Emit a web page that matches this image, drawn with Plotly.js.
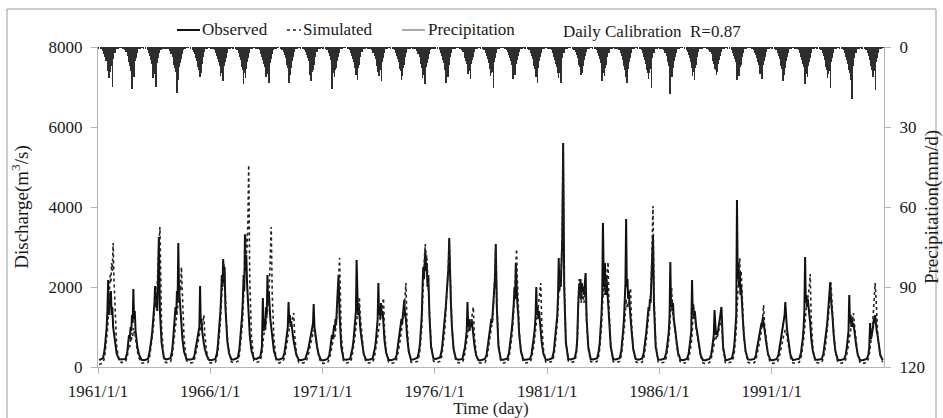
<!DOCTYPE html>
<html>
<head>
<meta charset="utf-8">
<script src="https://cdn.plot.ly/plotly-3.0.1.min.js"></script>
<style>html,body{margin:0;padding:0;background:#fff;}#chart{width:943px;height:418px;}</style>
</head>
<body>
<div id="chart"></div>
<script>
// ---------------- data ----------------
const years = [1961,1962,1963,1964,1965,1966,1967,1968,1969,1970,1971,1972,1973,1974,1975,1976,1977,1978,1979,1980,1981,1982,1983,1984,1985,1986,1987,1988,1989,1990,1991,1992,1993,1994,1995];

// sampling days inside each year for discharge (m3/s)
const flowDays = ['01-20','03-25','04-20','05-05','05-20','06-03','06-15','06-27','07-08','07-19','07-30','08-10','08-22','09-04','09-18','10-05','11-01','12-10'];

const observed = [
 [170,220,450,700,950,1400,2175,1300,1700,1500,1900,1300,1500,1000,800,550,330,190],
 [190,200,350,550,800,700,1000,900,1300,1100,1950,1200,1400,900,700,480,300,180],
 [170,200,380,500,700,900,1100,1300,1600,2025,1500,1800,1400,2200,3250,1400,600,220],
 [190,220,400,650,900,1200,1500,1300,1900,1600,3100,2000,1700,1400,1100,700,380,200],
 [180,200,300,450,600,700,800,900,1000,2025,1100,1200,900,800,600,450,300,180],
 [170,200,350,550,800,1100,1400,1800,2300,2000,2700,2100,2500,1500,1000,650,350,190],
 [190,230,450,700,1000,1300,1700,2300,1900,3320,2400,2800,2100,1800,1300,800,420,210],
 [200,250,500,1725,900,1200,1000,1500,1300,2300,1600,1900,1400,1200,1000,700,400,200],
 [180,220,350,500,650,800,1000,1625,1100,1300,1000,1150,900,800,650,480,300,180],
 [170,200,300,400,500,600,750,850,900,1000,1100,1575,1000,900,700,500,300,170],
 [170,200,300,450,600,800,700,1000,1050,900,1200,1100,1400,1700,2300,1300,500,190],
 [180,200,350,500,700,900,1100,1400,2675,1500,1300,1600,1200,1000,800,550,320,180],
 [180,210,350,500,700,900,1200,2100,1300,1500,1200,1600,1300,1400,1000,650,350,180],
 [170,200,300,450,600,750,900,1000,1200,1100,1300,1400,1675,1300,1200,800,400,180],
 [190,230,400,600,900,1300,2000,2500,2200,2700,2925,2400,2600,2000,2300,1300,500,210],
 [200,240,400,600,800,1000,1300,1500,1700,1900,2200,2500,3225,2000,1600,1000,450,200],
 [180,200,350,500,700,900,1625,1000,1200,900,1100,1000,1200,900,800,550,300,170],
 [170,200,300,450,600,800,900,1000,1200,1100,1400,1600,1900,2200,3075,1500,500,180],
 [180,210,350,500,700,900,1100,1300,1600,2000,1700,2600,1900,1600,1300,800,400,180],
 [180,200,300,450,600,800,1000,1300,2000,1300,1500,1200,1400,1100,900,600,330,180],
 [180,220,400,600,800,1000,1300,1800,2725,1900,2200,2000,2500,3200,5600,2000,600,200],
 [190,220,400,700,1500,2000,1800,2200,1700,2100,1900,2000,1800,2100,2350,1200,500,200],
 [190,220,400,600,900,1300,1800,3600,2400,2000,2600,1800,2300,1900,1600,1200,500,200],
 [190,220,400,600,900,1200,1600,2100,3700,2000,2200,1700,1900,1500,1300,900,450,200],
 [180,210,350,500,700,900,1100,1300,1500,1400,1700,1600,2000,2600,3300,1500,500,190],
 [180,210,350,500,700,900,1300,2625,1500,1700,1400,1600,1200,1100,900,650,350,180],
 [170,200,330,500,700,900,2175,1300,1500,1200,1400,1100,1000,900,750,550,300,170],
 [170,200,300,450,600,800,1425,900,800,900,800,900,1000,1100,1300,1500,500,170],
 [180,220,400,600,900,1300,4175,2200,2600,2000,2400,1800,2000,1500,1200,800,400,190],
 [180,200,300,450,600,700,800,900,1000,1100,1000,1250,1100,1000,800,600,330,180],
 [170,200,300,450,600,750,900,1000,1100,1200,1300,1625,1100,1000,800,550,300,170],
 [180,210,350,500,700,1000,1400,2750,1600,1800,1500,1700,1400,1300,1100,700,380,180],
 [180,200,330,480,650,850,1000,1200,1400,1600,1800,2125,1700,1500,1200,800,400,180],
 [170,200,320,480,650,900,1800,1100,1300,1000,1200,1000,1100,900,800,550,300,170],
 [170,200,300,450,1100,700,800,900,1000,1200,1100,1300,1000,900,800,550,300,170]
];

const simulated = [
 [60,110,250,450,650,900,1200,1500,1900,2300,2100,2600,2400,3100,2200,1300,500,170],
 [110,130,250,400,550,500,700,650,850,750,975,850,900,700,550,380,220,100],
 [100,120,250,400,550,750,900,1100,1300,1700,1500,1700,2000,2600,3000,3500,1000,140],
 [110,130,250,450,650,900,1100,1200,1400,1500,1800,1700,2000,1900,2500,1600,700,160],
 [100,110,200,300,400,500,600,700,800,900,1000,1100,1000,1200,1300,800,400,110],
 [100,120,250,400,600,850,1100,1500,1900,2100,2400,2600,2300,1800,1200,750,400,130],
 [110,140,300,500,750,1000,1300,1700,2000,2600,3300,2800,3000,3600,5050,2200,800,160],
 [110,150,350,700,800,900,900,1100,1200,1400,1600,1800,2200,2800,3500,1800,700,150],
 [100,130,220,350,450,600,750,900,950,1000,1050,1100,1150,1250,1350,800,350,110],
 [100,110,180,250,350,450,550,650,750,800,900,925,850,800,650,450,250,100],
 [90,110,200,300,400,500,550,700,800,750,900,1000,1300,1800,2300,2725,800,130],
 [100,120,220,350,500,650,800,1000,1200,1300,1400,1500,1750,1300,1000,650,320,110],
 [100,120,220,350,500,650,800,1000,1100,1200,1300,1400,1500,1600,1725,900,400,120],
 [90,110,200,300,400,500,650,800,900,1000,1100,1300,1500,1700,2100,1100,450,120],
 [110,140,280,450,700,1000,1600,2200,2500,2800,3075,2600,2800,2300,2100,1400,600,150],
 [110,140,250,400,600,800,1000,1300,1500,1800,2100,2600,3150,2400,1700,1000,450,140],
 [100,120,220,350,500,600,800,900,1000,900,1000,1100,1200,1300,1500,800,350,110],
 [100,110,200,300,450,600,700,800,950,1000,1200,1500,1800,2300,3000,1700,600,120],
 [100,120,220,350,500,700,900,1100,1400,1700,2000,2300,2950,2200,1500,900,400,120],
 [100,120,200,300,450,600,800,1000,1200,1300,1400,1500,1700,1900,2100,1100,450,120],
 [110,140,280,450,650,850,1100,1500,2000,2200,2000,2300,2600,3500,5550,2200,700,150],
 [110,140,300,600,1300,2200,1700,1900,1600,1800,1700,1800,1600,1900,2000,1100,450,140],
 [110,140,280,450,700,1000,1400,2000,2000,1800,2200,1900,2100,2300,2625,1400,550,140],
 [110,140,280,450,650,900,1100,1400,1700,1500,1600,1500,1700,1800,1975,1100,450,140],
 [100,120,220,350,500,700,900,1100,1300,1400,1600,1800,2200,3000,4025,1800,600,130],
 [100,120,220,350,500,700,900,1200,1500,1975,1400,1300,1100,1000,800,550,300,110],
 [100,110,200,320,450,600,800,1100,1600,1200,1300,1100,1000,900,700,500,280,100],
 [90,110,200,300,400,500,700,750,700,800,750,850,900,1000,1100,1200,450,100],
 [100,130,250,400,600,900,1400,1900,2300,2500,2725,2200,2400,1800,1300,800,400,120],
 [90,110,180,280,400,500,600,700,800,900,1100,1300,1550,1100,900,600,300,100],
 [90,110,180,260,350,450,550,650,750,800,850,925,850,800,650,450,250,100],
 [100,120,230,350,500,700,900,1200,1400,1500,1600,1700,1800,2000,2325,1200,450,120],
 [100,120,220,330,480,650,800,1000,1200,1400,1700,2000,2100,1700,1300,850,400,120],
 [90,110,200,300,420,550,700,800,900,1000,1100,1200,1350,1100,900,600,300,100],
 [90,110,200,300,450,600,800,1000,1300,1600,1900,2100,1800,1300,900,600,300,120]
];

// sampling days inside each year for precipitation (mm/d)
const rainDays = ['01-10','02-15','03-15','04-05','04-25','05-10','05-25','06-05','06-15','06-25','07-05','07-15','07-25','08-05','08-15','08-25','09-10','09-30','10-25','11-20','12-15'];

const precipitation = [
 [0.4,0.5,1.4,2.5,3.6,5.2,4.0,7.8,8.9,11.8,7.2,9.4,8.8,6.2,7.0,14.9,4.5,2.4,0.9,0.7,0.3],
 [0.3,0.6,1.2,2.0,3.2,4.4,5.8,7.0,8.2,9.0,15.8,7.0,8.6,11.2,6.6,5.4,4.0,2.2,0.8,0.6,0.3],
 [0.5,0.5,1.0,2.3,3.5,4.8,6.2,7.5,11.5,9.4,7.6,10.2,9.0,14.9,6.0,5.8,4.1,2.3,1.0,0.6,0.4],
 [0.4,0.7,1.5,2.6,3.8,5.0,6.6,8.0,9.2,7.8,17.1,10.0,12.2,8.6,7.6,6.0,4.4,2.8,1.1,0.7,0.3],
 [0.3,0.4,1.0,1.8,2.8,4.0,5.2,6.4,7.4,8.2,8.8,11.1,6.8,9.8,6.4,5.0,3.6,2.0,0.7,0.5,0.3],
 [0.4,0.5,1.2,2.2,3.3,4.6,5.8,7.0,10.8,9.0,9.6,7.6,12.9,8.2,7.0,5.6,4.0,2.2,0.8,0.6,0.3],
 [0.4,0.6,1.3,2.4,3.6,4.9,6.2,7.6,8.8,14.0,8.0,9.6,11.6,8.2,7.0,5.6,4.2,2.4,0.9,0.6,0.3],
 [0.5,0.5,1.2,2.6,3.8,5.0,6.4,7.6,8.6,11.2,9.8,10.2,8.0,8.4,13.4,6.0,4.4,2.5,1.0,0.7,0.4],
 [0.3,0.5,1.1,2.0,3.0,4.2,5.6,6.8,8.0,8.8,13.4,7.4,10.6,7.8,6.6,5.2,3.8,2.0,0.8,0.5,0.3],
 [0.4,0.4,1.0,1.9,3.0,4.2,5.4,6.6,10.4,12.9,7.6,9.4,8.8,7.8,6.6,5.2,3.6,2.0,0.7,0.5,0.3],
 [0.4,0.5,1.2,2.2,3.4,4.8,6.0,15.6,7.2,9.2,9.8,11.4,8.8,8.0,6.8,5.4,3.9,2.2,0.8,0.6,0.3],
 [0.3,0.5,1.1,2.1,3.2,4.4,5.6,6.8,8.0,10.6,9.4,7.8,12.4,8.0,6.8,5.4,3.8,2.0,0.8,0.6,0.3],
 [0.4,0.6,1.3,2.3,3.4,4.6,5.9,7.2,8.4,9.2,11.0,9.4,8.8,6.8,12.9,5.6,4.0,2.2,0.9,0.6,0.3],
 [0.4,0.5,1.2,2.2,3.3,4.5,5.8,7.0,8.2,9.0,12.4,7.6,10.8,7.8,6.6,5.2,3.8,2.1,0.8,0.6,0.3],
 [0.5,0.6,1.4,2.5,3.7,5.0,6.4,7.8,11.6,9.8,10.4,8.2,14.0,9.6,7.6,6.0,4.4,2.6,1.0,0.7,0.4],
 [0.4,0.5,1.2,2.3,3.5,4.8,6.0,7.4,8.6,9.4,13.4,9.8,8.0,11.2,6.8,5.4,3.9,2.2,0.8,0.6,0.3],
 [0.3,0.4,1.0,1.9,2.9,4.1,5.3,6.5,7.6,10.2,9.0,7.4,8.8,11.9,6.4,5.0,3.6,1.9,0.7,0.5,0.3],
 [0.4,0.5,1.2,2.2,3.4,4.6,5.9,7.2,8.4,11.0,9.8,9.4,7.6,8.0,15.5,5.6,4.0,2.2,0.8,0.6,0.3],
 [0.3,0.5,1.1,2.0,3.0,4.2,5.4,6.6,7.8,11.9,7.4,9.2,10.4,7.4,6.2,4.9,3.5,1.9,0.7,0.5,0.3],
 [0.4,0.5,1.2,2.2,3.3,4.5,5.8,7.0,8.2,9.0,11.2,9.6,13.4,8.0,6.8,5.4,3.9,2.1,0.8,0.6,0.3],
 [0.4,0.6,1.3,2.4,3.6,4.9,6.2,7.6,8.8,9.6,11.8,9.8,9.2,7.6,13.4,5.8,4.2,2.4,0.9,0.6,0.3],
 [0.3,0.5,1.1,2.0,3.0,4.2,5.4,6.6,7.6,8.4,10.6,7.0,9.6,7.2,6.0,4.8,3.4,1.8,0.7,0.5,0.3],
 [0.4,0.5,1.2,2.2,3.4,4.6,5.9,7.2,12.9,9.2,9.8,7.8,11.0,8.0,6.8,5.4,3.9,2.2,0.8,0.6,0.3],
 [0.4,0.5,1.2,2.3,3.4,4.7,6.0,7.3,8.5,11.4,9.9,7.8,13.4,8.1,6.9,5.5,4.0,2.2,0.8,0.6,0.3],
 [0.4,0.6,1.3,2.4,3.6,4.9,6.2,7.6,8.8,9.6,12.0,9.6,9.0,7.0,8.2,15.5,4.2,2.4,0.9,0.6,0.3],
 [0.4,0.5,1.2,2.2,3.3,4.5,5.8,7.0,8.2,17.5,9.6,7.8,11.2,7.8,6.6,5.2,3.8,2.1,0.8,0.6,0.3],
 [0.3,0.5,1.1,2.0,3.1,4.3,5.5,6.7,7.9,10.8,9.3,7.4,12.4,7.9,6.7,5.3,3.8,2.0,0.8,0.5,0.3],
 [0.3,0.4,1.0,1.8,2.8,4.0,5.1,6.3,7.3,8.1,8.7,10.6,7.0,9.4,6.3,5.0,3.5,1.9,0.7,0.5,0.3],
 [0.4,0.5,1.2,2.2,3.3,4.5,5.8,7.0,12.4,8.2,9.0,10.8,9.2,7.4,6.6,5.2,3.8,2.1,0.8,0.6,0.3],
 [0.3,0.5,1.1,2.1,3.1,4.3,5.5,6.7,7.9,10.2,9.3,7.6,11.9,7.8,6.6,5.2,3.7,2.0,0.8,0.5,0.3],
 [0.4,0.5,1.2,2.2,3.3,4.5,5.8,7.0,8.2,9.0,12.9,7.8,10.6,7.8,6.6,5.2,3.8,2.1,0.8,0.6,0.3],
 [0.4,0.6,1.3,2.4,3.6,4.9,6.2,7.6,8.8,14.0,9.6,10.2,8.0,11.4,7.2,5.8,4.2,2.4,0.9,0.6,0.3],
 [0.4,0.5,1.2,2.3,3.5,4.8,6.1,7.4,8.6,11.6,10.0,9.6,9.0,7.4,15.5,5.6,4.0,2.3,0.9,0.6,0.3],
 [0.4,0.6,1.3,2.4,3.6,4.9,6.2,7.6,8.8,9.6,12.2,9.6,19.6,8.4,7.2,5.8,4.2,2.4,0.9,0.6,0.3],
 [0.4,0.5,1.2,2.3,3.4,4.7,6.0,7.3,8.5,9.3,11.4,9.5,8.9,8.1,16.0,5.5,4.0,2.2,0.8,0.6,0.3]
];

const xTickDates = ['1961-01-01','1966-01-01','1971-01-01','1976-01-01','1981-01-01','1986-01-01','1991-01-01'];
const xTickText = ['1961/1/1','1966/1/1','1971/1/1','1976/1/1','1981/1/1','1986/1/1','1991/1/1'];
const legendNames = ['Observed','Simulated','Precipitation'];
const chartTitle = 'Daily Calibration&nbsp; R=0.87';

// ---------------- build series table ----------------
function series(days, rows){
  const x = [], y = [];
  years.forEach((yr, i) => days.forEach((d, j) => { x.push(yr + '-' + d); y.push(rows[i][j]); }));
  return {x, y};
}
const obs = series(flowDays, observed);
const sim = series(flowDays, simulated);
const pre = series(rainDays, precipitation);

const FONT = '"Liberation Serif", "Times New Roman", Times, serif';
const AX = '#b4b4b4';
const TXT = '#1a1a1a';

const traces = [
  {type:'bar', name:legendNames[2], x:pre.x, y:pre.y, yaxis:'y2',
   width: 10*86400000, marker:{color:'#2e2e2e', line:{width:0}}, hoverinfo:'x+y'},
  {type:'scatter', mode:'lines', name:legendNames[0], x:obs.x, y:obs.y,
   line:{color:'#111', width:2}},
  {type:'scatter', mode:'lines', name:legendNames[1], x:sim.x, y:sim.y,
   line:{color:'#222', width:1.6, dash:'dot'}}
];

// paper coordinate helpers (plot area: x 98..884, y 47..367)
const px = v => (v - 98) / 786;
const py = v => (367 - v) / 320;

const layout = {
  width:943, height:418,
  margin:{l:98, r:59, t:47, b:51},
  paper_bgcolor:'#fff', plot_bgcolor:'#fff',
  font:{family:FONT, size:17, color:TXT},
  showlegend:false,
  bargap:0,
  title:{text:chartTitle, x:563/943, xanchor:'left', y:1-31/418, yanchor:'middle', font:{family:FONT, size:17, color:TXT}},
  xaxis:{type:'date', range:['1961-01-01','1996-01-01'], tickvals:xTickDates, ticktext:xTickText,
    ticks:'outside', ticklen:6, tickcolor:AX, showline:true, linecolor:AX, linewidth:1,
    showgrid:false, zeroline:false, tickfont:{size:17}, ticklabelstandoff:3,
    title:{text:'Time (day)', font:{size:17}, standoff:0}},
  yaxis:{range:[0,8000], tick0:0, dtick:2000, ticks:'outside', ticklen:6, tickcolor:AX,
    showline:true, linecolor:AX, linewidth:1, showgrid:false, zeroline:false, tickfont:{size:17},
    ticklabelstandoff:5,
    title:{text:'Discharge(m<sup>3</sup>/s)', font:{size:19}, standoff:14}},
  yaxis2:{overlaying:'y', side:'right', range:[120,0], tick0:0, dtick:30, ticks:'outside', ticklen:6,
    tickcolor:AX, showline:true, linecolor:AX, linewidth:1, showgrid:false, zeroline:false,
    tickfont:{size:17}, ticklabelstandoff:5,
    title:{text:'Precipitation(mm/d)', font:{size:19}, standoff:5}},
  shapes:[
    {type:'rect', xref:'paper', yref:'paper', x0:px(7), x1:px(936), y0:py(430), y1:py(9),
     line:{color:'#9a9a9a', width:1}, fillcolor:'rgba(0,0,0,0)', layer:'below'},
    {type:'line', xref:'paper', yref:'paper', x0:px(177), x1:px(200), y0:py(30), y1:py(30), line:{color:'#111', width:2}},
    {type:'line', xref:'paper', yref:'paper', x0:px(287), x1:px(301), y0:py(30), y1:py(30), line:{color:'#222', width:1.5, dash:'dot'}},
    {type:'line', xref:'paper', yref:'paper', x0:px(402), x1:px(425), y0:py(30), y1:py(30), line:{color:'#555', width:1}}
  ],
  annotations:[
    {xref:'paper', yref:'paper', x:px(200), y:py(30), xanchor:'left', yanchor:'middle', text:legendNames[0], showarrow:false, font:{size:17}},
    {xref:'paper', yref:'paper', x:px(301), y:py(30), xanchor:'left', yanchor:'middle', text:legendNames[1], showarrow:false, font:{size:17}},
    {xref:'paper', yref:'paper', x:px(426), y:py(30), xanchor:'left', yanchor:'middle', text:legendNames[2], showarrow:false, font:{size:17}}
  ]
};

Plotly.newPlot('chart', traces, layout, {displayModeBar:false, responsive:false});
</script>
</body>
</html>
